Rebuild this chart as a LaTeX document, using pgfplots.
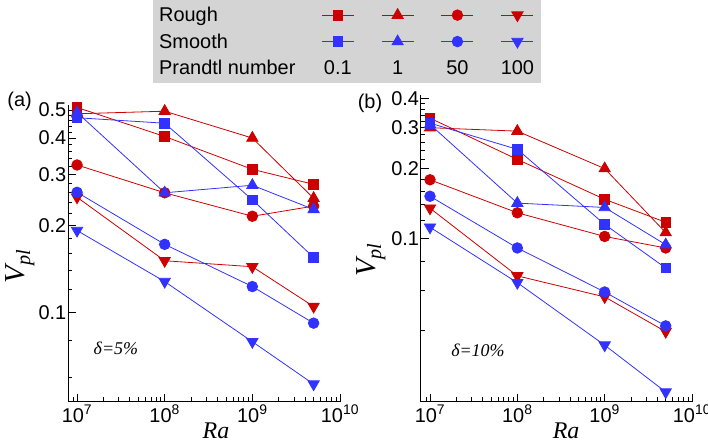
\documentclass[border=0pt]{standalone}
\usepackage{pgfplots}
\pgfplotsset{compat=1.18}
\usepackage{fontspec}
\setmainfont{Liberation Sans}
\newfontfamily\serifit{Liberation Serif}
\definecolor{rr}{RGB}{205,0,0}
\definecolor{bb}{RGB}{50,50,255}
\definecolor{lg}{RGB}{212,212,212}
\pgfplotsset{
  rsq/.style={rr, line width=0.8bp, mark=square*, mark size=4.8bp},
  rtr/.style={rr, line width=0.8bp, mark=triangle*, mark size=6.5bp},
  rci/.style={rr, line width=0.8bp, mark=*, mark size=5.3bp},
  rdt/.style={rr, line width=0.8bp, mark=triangle*, mark size=6.5bp, mark options={rotate=180}},
  bsq/.style={bb, line width=0.8bp, mark=square*, mark size=4.8bp},
  btr/.style={bb, line width=0.8bp, mark=triangle*, mark size=6.5bp},
  bci/.style={bb, line width=0.8bp, mark=*, mark size=5.3bp},
  bdt/.style={bb, line width=0.8bp, mark=triangle*, mark size=6.5bp, mark options={rotate=180}},
}
\begin{document}
\begin{tikzpicture}
\begin{axis}[
  scale only axis, xmode=log, ymode=log,
  axis lines=left, axis line style={-, line width=0.8bp, black},
  tick align=inside, major tick length=8bp, minor tick length=4.5bp,
  tick style={black, line width=0.8bp},
  font=\fontsize{20}{24}\selectfont,
  xmax=1e10,
  xtick={1e7,1e8,1e9,1e10},
  xticklabels={10\textsuperscript{7},10\textsuperscript{8},10\textsuperscript{9},10\textsuperscript{10}},
  minor xtick={9e6,2e7,3e7,4e7,5e7,6e7,7e7,8e7,9e7,2e8,3e8,4e8,5e8,6e8,7e8,8e8,9e8,2e9,3e9,4e9,5e9,6e9,7e9,8e9,9e9},
  yticklabel style={inner xsep=1.5bp},
  clip=false,
  xlabel={\serifit\itshape Ra},
  ylabel={\serifit\itshape V\textsubscript{pl}},
  xlabel style={font=\fontsize{24}{27}\selectfont, anchor=center, inner sep=0pt, at={(axis description cs:0.544,-0.097)}},
  ylabel style={font=\fontsize{29}{34}\selectfont, anchor=center, inner sep=0pt, at={(axis description cs:-0.176,0.457)}},
  at={(68bp,-401.7bp)}, anchor=south west,
  width=272bp, height=296.7bp,
  xmin=7.89e6, ymin=0.0493, ymax=0.52,
  ytick={0.1,0.2,0.3,0.4,0.5},
  yticklabels={0.1,0.2,0.3,0.4,0.5},
  minor ytick={0.06,0.08,0.12,0.14,0.16,0.18,0.22,0.24,0.26,0.28,0.32,0.34,0.36,0.38,0.42,0.44,0.46,0.48},
  legend image code/.code={\draw[mark repeat=2,mark phase=2,#1] plot coordinates {(0bp,0bp) (16bp,0bp) (32bp,0bp)};},
  legend columns=5,
  legend cell align=left,
  legend style={at={(axis description cs:0.3125,1.354)}, anchor=north west, draw=none, fill=lg,
    font=\fontsize{20}{24}\selectfont, inner xsep=6bp, inner ysep=7bp,
    nodes={inner sep=0pt}, column sep=0pt, row sep=10.5bp,
    /tikz/every even column/.append style={column sep=26bp}},
]
\addplot[rsq, forget plot] coordinates {(1e7,0.51) (1e8,0.405) (1e9,0.312) (5e9,0.277)};
\addplot[rtr, forget plot] coordinates {(1e7,0.485) (1e8,0.495) (1e9,0.40) (5e9,0.248)};
\addplot[rci, forget plot] coordinates {(1e7,0.323) (1e8,0.259) (1e9,0.215) (5e9,0.233)};
\addplot[rdt, forget plot] coordinates {(1e7,0.25) (1e8,0.151) (1e9,0.144) (5e9,0.105)};
\addplot[bsq, forget plot] coordinates {(1e7,0.47) (1e8,0.45) (1e9,0.245) (5e9,0.155)};
\addplot[btr, forget plot] coordinates {(1e7,0.49) (1e8,0.259) (1e9,0.275) (5e9,0.227)};
\addplot[bci, forget plot] coordinates {(1e7,0.26) (1e8,0.172) (1e9,0.123) (5e9,0.092)};
\addplot[bdt, forget plot] coordinates {(1e7,0.192) (1e8,0.128) (1e9,0.0794) (5e9,0.0567)};
\addlegendimage{empty legend}\addlegendentry{Rough}
\addlegendimage{rsq}\addlegendentry{\hbox{}}
\addlegendimage{rtr}\addlegendentry{\hbox{}}
\addlegendimage{rci}\addlegendentry{\hbox{}}
\addlegendimage{rdt}\addlegendentry{\hbox{}}
\addlegendimage{empty legend}\addlegendentry{Smooth}
\addlegendimage{bsq}\addlegendentry{\hbox{}}
\addlegendimage{btr}\addlegendentry{\hbox{}}
\addlegendimage{bci}\addlegendentry{\hbox{}}
\addlegendimage{bdt}\addlegendentry{\hbox{}}
\addlegendimage{empty legend}\addlegendentry{Prandtl number}
\addlegendimage{legend image code/.code={\path[draw=none, fill=none] (0bp,-6bp) rectangle (32bp,6bp); \node[anchor=center, inner sep=0pt, draw=none, fill=none, text=black] at (16bp,0bp) {0.1};}}\addlegendentry{\hbox{}}
\addlegendimage{legend image code/.code={\path[draw=none, fill=none] (0bp,-6bp) rectangle (32bp,6bp); \node[anchor=center, inner sep=0pt, draw=none, fill=none, text=black] at (16bp,0bp) {1};}}\addlegendentry{\hbox{}}
\addlegendimage{legend image code/.code={\path[draw=none, fill=none] (0bp,-6bp) rectangle (32bp,6bp); \node[anchor=center, inner sep=0pt, draw=none, fill=none, text=black] at (16bp,0bp) {50};}}\addlegendentry{\hbox{}}
\addlegendimage{legend image code/.code={\path[draw=none, fill=none] (0bp,-6bp) rectangle (32bp,6bp); \node[anchor=center, inner sep=0pt, draw=none, fill=none, text=black] at (16bp,0bp) {100};}}\addlegendentry{\hbox{}}
\node[font=\fontsize{20}{24}\selectfont] at (axis description cs:-0.178,1.0135) {(a)};
\node[font=\fontsize{18}{22}\selectfont] at (axis description cs:0.176,0.181) {\serifit\itshape δ=5\%};
\end{axis}
\begin{axis}[
  scale only axis, xmode=log, ymode=log,
  axis lines=left, axis line style={-, line width=0.8bp, black},
  tick align=inside, major tick length=8bp, minor tick length=4.5bp,
  tick style={black, line width=0.8bp},
  font=\fontsize{20}{24}\selectfont,
  xmax=1e10,
  xtick={1e7,1e8,1e9,1e10},
  xticklabels={10\textsuperscript{7},10\textsuperscript{8},10\textsuperscript{9},10\textsuperscript{10}},
  minor xtick={9e6,2e7,3e7,4e7,5e7,6e7,7e7,8e7,9e7,2e8,3e8,4e8,5e8,6e8,7e8,8e8,9e8,2e9,3e9,4e9,5e9,6e9,7e9,8e9,9e9},
  yticklabel style={inner xsep=1.5bp},
  clip=false,
  xlabel={\serifit\itshape Ra},
  ylabel={\serifit\itshape V\textsubscript{pl}},
  xlabel style={font=\fontsize{24}{27}\selectfont, anchor=center, inner sep=0pt, at={(axis description cs:0.536,-0.094)}},
  ylabel style={font=\fontsize{29}{34}\selectfont, anchor=center, inner sep=0pt, at={(axis description cs:-0.183,0.462)}},
  at={(420.7bp,-401.7bp)}, anchor=south west,
  width=271.3bp, height=306.7bp,
  xmin=7.83e6, ymin=0.0198, ymax=0.415,
  ytick={0.1,0.2,0.3,0.4},
  yticklabels={0.1,0.2,0.3,0.4},
  minor ytick={0.04,0.06,0.08,0.12,0.14,0.16,0.18,0.22,0.24,0.26,0.28,0.32,0.34,0.36,0.38},
]
\addplot[rsq] coordinates {(1e7,0.33) (1e8,0.219) (1e9,0.1475) (5e9,0.1174)};
\addplot[rtr] coordinates {(1e7,0.30) (1e8,0.29) (1e9,0.20) (5e9,0.106)};
\addplot[rci] coordinates {(1e7,0.179) (1e8,0.129) (1e9,0.102) (5e9,0.091)};
\addplot[rdt] coordinates {(1e7,0.135) (1e8,0.069) (1e9,0.056) (5e9,0.0397)};
\addplot[bsq] coordinates {(1e7,0.314) (1e8,0.242) (1e9,0.115) (5e9,0.0746)};
\addplot[btr] coordinates {(1e7,0.31) (1e8,0.142) (1e9,0.136) (5e9,0.094)};
\addplot[bci] coordinates {(1e7,0.152) (1e8,0.091) (1e9,0.0588) (5e9,0.042)};
\addplot[bdt] coordinates {(1e7,0.1118) (1e8,0.0645) (1e9,0.0347) (5e9,0.0218)};
\node[font=\fontsize{20}{24}\selectfont] at (axis description cs:-0.187,0.974) {(b)};
\node[font=\fontsize{18}{22}\selectfont] at (axis description cs:0.211,0.169) {\serifit\itshape δ=10\%};
\end{axis}
\pgfresetboundingbox
\useasboundingbox (0bp,0bp) rectangle (708bp,-443bp);
\end{tikzpicture}
\end{document}
